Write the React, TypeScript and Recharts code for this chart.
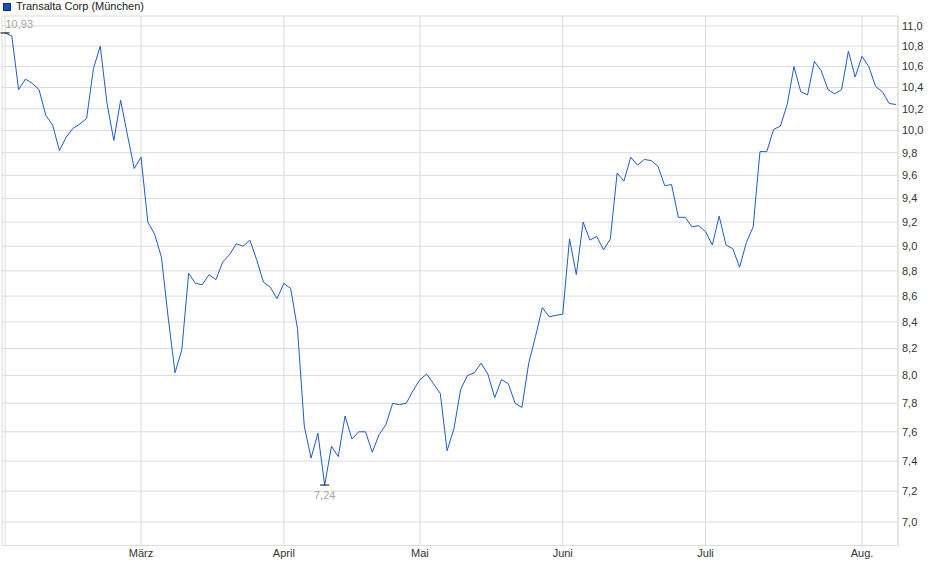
import { LineChart, Line, XAxis, YAxis, CartesianGrid } from "recharts";

const TITLE = "Transalta Corp (München)";

// trading days shown: 03.02.2025 - 08.08.2025 (Börse München)
const FIRST_DAY = "2025-02-03";
const LAST_DAY = "2025-08-08";
const HOLIDAYS = ["2025-04-18", "2025-04-21", "2025-05-01"];

const MONTH_LABELS = ["", "Jan.", "Feb.", "März", "April", "Mai", "Juni", "Juli", "Aug."];

const Y_TICKS = [
  7.0, 7.2, 7.4, 7.6, 7.8, 8.0, 8.2, 8.4, 8.6, 8.8, 9.0,
  9.2, 9.4, 9.6, 9.8, 10.0, 10.2, 10.4, 10.6, 10.8, 11.0,
];

// closing prices in EUR, one per trading day
const PRICES = [
  10.93, 10.9, 10.38, 10.48, 10.44, 10.38, 10.14, 10.05, 9.82, 9.94,
  10.02, 10.06, 10.11, 10.58, 10.8, 10.25, 9.91, 10.28, 9.96, 9.66,
  9.76, 9.2, 9.1, 8.91, 8.43, 8.02, 8.19, 8.78, 8.7, 8.69,
  8.77, 8.73, 8.87, 8.93, 9.02, 9.0, 9.05, 8.89, 8.71, 8.67,
  8.58, 8.7, 8.66, 8.35, 7.64, 7.42, 7.59, 7.24, 7.5, 7.43,
  7.71, 7.55, 7.6, 7.6, 7.46, 7.58, 7.65, 7.8, 7.79, 7.8,
  7.89, 7.97, 8.01, 7.94, 7.87, 7.47, 7.62, 7.9, 8.0, 8.02,
  8.09, 8.01, 7.84, 7.97, 7.94, 7.8, 7.77, 8.09, 8.29, 8.51,
  8.44, 8.45, 8.46, 9.06, 8.77, 9.2, 9.05, 9.08, 8.97, 9.06,
  9.62, 9.55, 9.76, 9.69, 9.74, 9.73, 9.68, 9.51, 9.52, 9.24,
  9.24, 9.16, 9.17, 9.12, 9.01, 9.25, 9.01, 8.98, 8.83, 9.03,
  9.16, 9.81, 9.81, 10.01, 10.04, 10.24, 10.6, 10.36, 10.33, 10.65,
  10.56, 10.38, 10.34, 10.38, 10.75, 10.5, 10.7, 10.6, 10.41, 10.36,
  10.25, 10.24,
];

function tradingDays(from: string, to: string, skip: string[]) {
  const out: string[] = [];
  const d = new Date(from + "T00:00:00Z");
  const end = new Date(to + "T00:00:00Z");
  while (d <= end) {
    const iso = d.toISOString().slice(0, 10);
    const wd = d.getUTCDay();
    if (wd !== 0 && wd !== 6 && !skip.includes(iso)) out.push(iso);
    d.setUTCDate(d.getUTCDate() + 1);
  }
  return out;
}

const days = tradingDays(FIRST_DAY, LAST_DAY, HOLIDAYS);
const data = days.map((date, i) => ({ date, price: PRICES[i] }));
const monthStarts = days.filter((d, i) => i === 0 || d.slice(5, 7) !== days[i - 1].slice(5, 7));

const maxIdx = PRICES.indexOf(Math.max(...PRICES));
const minIdx = PRICES.indexOf(Math.min(...PRICES));

const fmt = (v: number, digits = 1) => v.toFixed(digits).replace(".", ",");

const GRID = "#dcdcdc";
const LINE = "#1f5bc6";
const MARK_TEXT = "#aaa59f";

const ExtremeDot = (props: any) => {
  const { cx, cy, index } = props;
  if (index === maxIdx) {
    return (
      <g key="max">
        <line x1={cx - 4.5} x2={cx + 4.5} y1={cy} y2={cy} stroke="#000" />
        <text x={cx + 0.5} y={cy - 5} fontSize={11} fill={MARK_TEXT} textAnchor="start">
          {fmt(PRICES[index], 2)}
        </text>
      </g>
    );
  }
  if (index === minIdx) {
    return (
      <g key="min">
        <line x1={cx - 4.5} x2={cx + 4.5} y1={cy} y2={cy} stroke="#000" />
        <text x={cx} y={cy + 14} fontSize={11} fill={MARK_TEXT} textAnchor="middle">
          {fmt(PRICES[index], 2)}
        </text>
      </g>
    );
  }
  return <g key={`d-${index}`} />;
};

export default function App() {
  return (
    <div
      style={{
        position: "absolute",
        left: 0,
        top: 0,
        width: 940,
        height: 579,
        background: "#fff",
        fontFamily: "'Liberation Sans', Arial, sans-serif",
      }}
    >
      <div
        style={{
          position: "absolute",
          left: 3,
          top: 0,
          fontSize: 11,
          lineHeight: "13px",
          color: "#222",
          display: "flex",
          alignItems: "center",
          whiteSpace: "nowrap",
        }}
      >
        <span
          style={{
            display: "inline-block",
            width: 6,
            height: 6,
            background: "#1a4fb5",
            border: "1px solid #15306e",
            marginRight: 5,
          }}
        />
        {TITLE}
      </div>
      <LineChart
        width={940}
        height={579}
        data={data}
        margin={{ top: 16, right: 2, bottom: 3.5, left: 2 }}
      >
        <CartesianGrid stroke={GRID} strokeWidth={1} />
        <XAxis
          dataKey="date"
          ticks={monthStarts}
          interval={0}
          padding={{ left: 3, right: 2 }}
          height={30}
          tickSize={0}
          tickMargin={4}
          tickLine={false}
          axisLine={{ stroke: GRID }}
          tick={{ fontSize: 11, fill: "#333" }}
          tickFormatter={(d: string) => (d === days[0] ? "" : MONTH_LABELS[Number(d.slice(5, 7))])}
        />
        <XAxis
          xAxisId="top"
          orientation="top"
          height={0}
          tick={false}
          tickLine={false}
          axisLine={{ stroke: GRID }}
        />
        <YAxis
          orientation="right"
          type="number"
          scale="log"
          domain={[6.852, 11.1]}
          allowDataOverflow
          ticks={Y_TICKS}
          interval={0}
          width={40}
          tickSize={0}
          tickMargin={4}
          tickLine={false}
          axisLine={{ stroke: GRID }}
          tick={{ fontSize: 11, fill: "#333" }}
          tickFormatter={(v: number) => fmt(v)}
        />
        <YAxis
          yAxisId="frame"
          orientation="left"
          type="number"
          domain={[0, 1]}
          width={0}
          tick={false}
          tickLine={false}
          axisLine={{ stroke: GRID }}
        />
        <Line
          type="linear"
          dataKey="price"
          stroke={LINE}
          strokeWidth={1}
          dot={ExtremeDot}
          activeDot={false}
          isAnimationActive={false}
        />
      </LineChart>
    </div>
  );
}
